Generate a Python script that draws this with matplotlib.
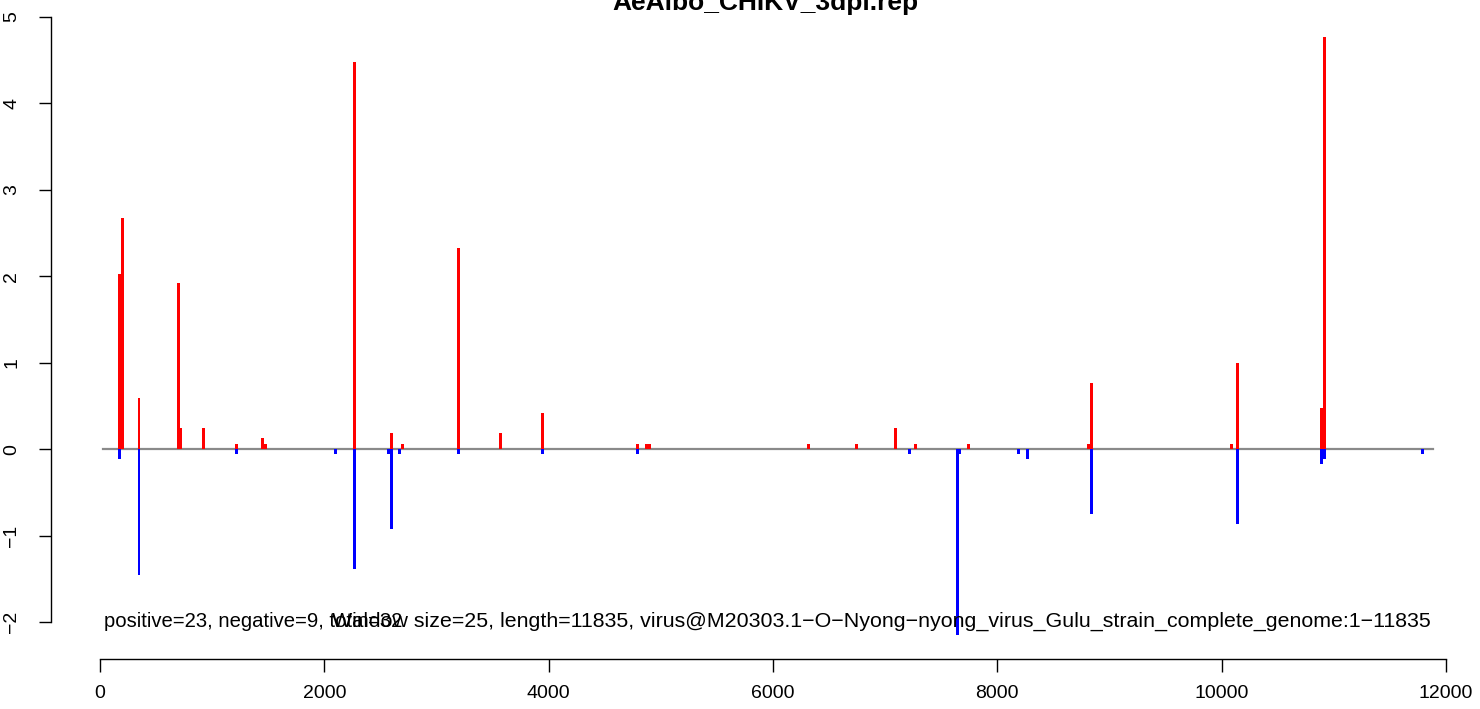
import matplotlib
matplotlib.use("Agg")
import matplotlib.pyplot as plt
import matplotlib.transforms as mtransforms

plt.rcParams['font.family'] = ['Liberation Sans', 'DejaVu Sans']

title = "AeAlbo_CHIKV_3dpi.rep"
window = 25
length = 11835
info_left = "positive=23, negative=9, total=32"
info_right = ("Window size=25, length=11835, "
              "virus@M20303.1\u2212O\u2212Nyong\u2212nyong_virus_Gulu_strain_complete_genome:1\u221211835")

pos_x = [160, 185, 335, 685, 710, 910, 1205, 1435, 1460, 2260, 2585, 2685,
         3185, 3560, 3935, 4780, 4860, 4885, 6305, 6730, 7080, 7260, 7730,
         8800, 8825, 10075, 10130, 10880, 10905]
pos_y = [2.03, 2.67, 0.59, 1.92, 0.24, 0.24, 0.06, 0.13, 0.06, 4.48, 0.185, 0.06,
         2.33, 0.185, 0.42, 0.06, 0.06, 0.06, 0.06, 0.06, 0.24, 0.06, 0.06,
         0.06, 0.76, 0.06, 0.995, 0.475, 4.77]

neg_x = [160, 335, 1205, 2085, 2260, 2560, 2585, 2660, 3185, 3935, 4780,
         7205, 7630, 7655, 8175, 8255, 8825, 10130, 10880, 10905, 11780]
neg_y = [-0.11, -1.455, -0.06, -0.06, -1.39, -0.06, -0.925, -0.06, -0.06, -0.06, -0.06,
         -0.06, -2.15, -0.06, -0.06, -0.11, -0.75, -0.865, -0.17, -0.11, -0.06]

xticks = [0, 2000, 4000, 6000, 8000, 10000, 12000]
yticks = [-2, -1, 0, 1, 2, 3, 4, 5]

W, H = 1480, 709
fig = plt.figure(figsize=(W / 100, H / 100), dpi=100)

# plot region in pixels (R-like)
left_px, right_px, bottom_px, top_px = 51, 1480, 659, 0
ax = fig.add_axes([left_px / W, (H - bottom_px) / H,
                   (right_px - left_px) / W, (bottom_px - top_px) / H])

xscale = 1346 / 12000.0
yscale = 605 / 7.0
y0 = 449.1
ax.set_xlim((left_px - 100) / xscale, (right_px - 100) / xscale)
ax.set_ylim((y0 - bottom_px) / yscale, (y0 - top_px) / yscale)

ax.plot([25, 11880], [0, 0], color='#8a8a8a', lw=1.6, zorder=1)
ax.bar(pos_x, pos_y, width=window, align='edge', color='#ff0000', linewidth=0, zorder=2)
ax.bar(neg_x, neg_y, width=window, align='edge', color='#0000ff', linewidth=0, zorder=2)

for s in ['top', 'right']:
    ax.spines[s].set_visible(False)
ax.spines['left'].set_bounds(-2, 5)
ax.spines['bottom'].set_bounds(0, 12000)
ax.spines['left'].set_linewidth(1.0)
ax.spines['bottom'].set_linewidth(1.0)

ax.set_xticks(xticks)
ax.set_xticklabels([str(v) for v in xticks])
ax.set_yticks(yticks)
ax.set_yticklabels([str(v).replace('-', '\u2212') for v in yticks], rotation=90, va='center')
ax.tick_params(axis='both', length=9, width=1.0, labelsize=14, direction='out')
ax.tick_params(axis='y', pad=13)
ax.tick_params(axis='x', pad=9.5)

txt_y = (y0 - 626.7) / yscale
off_l = mtransforms.offset_copy(ax.transData, fig=fig, x=4, y=0, units='dots')
off_r = mtransforms.offset_copy(ax.transData, fig=fig, x=3, y=0, units='dots')
ax.text(0, txt_y, info_left, transform=off_l, ha='left', va='baseline', fontsize=14.6)
ax.text(length, txt_y, info_right, transform=off_r, ha='right', va='baseline', fontsize=15.4)

fig.text((left_px + right_px) / 2 / W, 1 - 10 / H, title, ha='center', va='baseline',
         fontsize=19, fontweight='bold')

fig.savefig('out.png', dpi=100)
